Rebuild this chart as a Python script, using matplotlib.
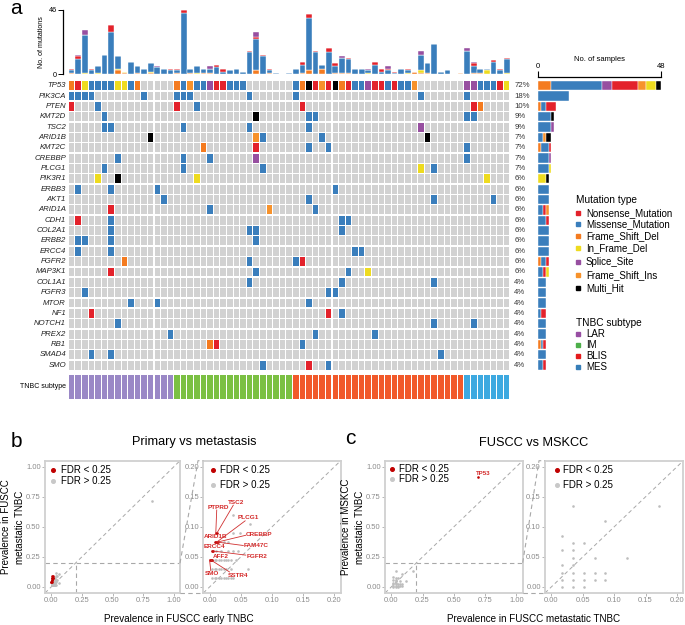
import numpy as np
import matplotlib
matplotlib.use('Agg')
import matplotlib.pyplot as plt

plt.rcParams['font.family'] = ['Liberation Sans', 'DejaVu Sans']

W, H = 685, 625
N_SAMPLES = 67

# ---------------- data : oncoplot ----------------
genes = ['TP53', 'PIK3CA', 'PTEN', 'KMT2D', 'TSC2', 'ARID1B', 'KMT2C', 'CREBBP',
         'PLCG1', 'PIK3R1', 'ERBB3', 'AKT1', 'ARID1A', 'CDH1', 'COL2A1', 'ERBB2',
         'ERCC4', 'FGFR2', 'MAP3K1', 'COL1A1', 'FGFR3', 'MTOR', 'NF1', 'NOTCH1',
         'PREX2', 'RB1', 'SMAD4', 'SMO']
# sample index + type code (N nonsense, M missense, D fs del, F in-frame del,
# S splice, I fs ins, X multi hit)
gene_mutations = [
    "0D 1N 2F 3M 4M 5M 6M 7F 8F 9M 10D 16D 17M 18I 19M 20M 21S 22N 23N 24M 25M 26M "
    "34M 35D 36X 37N 38I 39N 40X 41D 42N 43M 44M 45S 46N 47N 48M 49N 50M 51M 52I "
    "60S 61S 62M 63M 64M 65N 66F",
    "0M 1M 2M 3M 11M 16M 17M 18M 27M 34M 53M 60M",
    "0N 4M 16N 19M 35N 61N 62D",
    "5M 28X 36M 37M 60M 61M",
    "5M 6M 17M 27M 36M 53S",
    "12X 28I 29M 38M 54X",
    "20D 28N 36M 39M 60M",
    "7M 17M 21M 28S 60M",
    "5M 17M 29M 53F 55M",
    "4F 7X 19F 63F",
    "1M 6M 13M 40M",
    "14M 36M 55M 64M",
    "6N 21M 30I 37M",
    "1N 6M 41M 42M",
    "6M 27M 28M 41M",
    "1M 2M 6M 28M",
    "1M 6M 43M 44M",
    "8D 27M 34M 35N",
    "6N 28M 42M 45F",
    "27M 41M 55M",
    "2M 39M 40M",
    "9M 13M 36M",
    "3N 39N 41M",
    "7M 55M 61M",
    "15M 37M 46M",
    "21D 22N 35M",
    "3M 6M 56M",
    "29M 36N 39M",
]

type_codes = ['N', 'M', 'D', 'F', 'S', 'I', 'X']
type_names = ['Nonsense_Mutation', 'Missense_Mutation', 'Frame_Shift_Del', 'In_Frame_Del',
              'Splice_Site', 'Frame_Shift_Ins', 'Multi_Hit']
type_colors = {'N': '#E3222B', 'M': '#3A7EBC', 'D': '#F47B20', 'F': '#EEDB1F',
               'S': '#974FA0', 'I': '#F7922B', 'X': '#000000'}
side_order = ['D', 'M', 'S', 'N', 'I', 'F', 'X']
GREY = '#D2D2D2'

# mutations per sample (stacked top bar)
tmb_fs = [1, 0, 0, 0, 0, 0, 0, 3, 1, 0, 1, 0, 1, 0, 0, 0, 1, 0, 1, 0, 1, 1, 0, 0, 0, 0, 0, 0, 3, 0,
          1, 0, 0, 0, 0, 1, 3, 0, 4, 0, 1, 1, 1, 0, 0, 0, 0, 0, 0, 0, 0, 0, 2, 1, 1, 0, 0, 0, 0, 1,
          0, 1, 1, 0, 0, 0, 0]
tmb_ifd = [0, 0, 1, 0, 1, 0, 0, 1, 1, 0, 0, 0, 1, 0, 0, 0, 0, 0, 0, 1, 0, 0, 0, 0, 0, 0, 0, 0, 0, 0,
           0, 0, 0, 0, 0, 0, 0, 0, 0, 0, 0, 0, 0, 0, 0, 1, 0, 0, 0, 0, 0, 1, 0, 2, 0, 0, 0, 0, 0, 0,
           0, 0, 0, 3, 0, 0, 1]
tmb_mis = [2, 11, 27, 3, 5, 14, 30, 9, 0, 9, 5, 4, 6, 5, 4, 3, 2, 44, 3, 5, 3, 3, 5, 2, 3, 4, 2, 16, 22, 13,
           2, 1, 0, 1, 4, 6, 37, 16, 3, 16, 5, 11, 10, 4, 4, 2, 7, 2, 3, 1, 4, 2, 0, 11, 7, 22, 2, 3, 0, 0,
           17, 5, 3, 1, 9, 3, 10]
tmb_non = [1, 2, 0, 1, 0, 0, 5, 0, 0, 0, 0, 0, 0, 0, 0, 1, 1, 2, 0, 0, 0, 0, 2, 2, 0, 0, 0, 1, 2, 1,
           1, 0, 0, 0, 0, 2, 3, 1, 0, 3, 2, 0, 1, 0, 0, 0, 2, 2, 1, 1, 0, 1, 0, 0, 0, 0, 0, 0, 0, 0,
           0, 2, 0, 0, 1, 1, 1]
tmb_spl = [0, 1, 4, 0, 0, 0, 0, 0, 0, 0, 0, 0, 0, 1, 0, 0, 0, 0, 0, 0, 0, 2, 0, 0, 0, 0, 0, 0, 3, 0,
           0, 0, 0, 0, 0, 0, 0, 0, 0, 0, 0, 1, 0, 0, 0, 1, 0, 0, 2, 0, 0, 0, 0, 3, 0, 0, 0, 0, 0, 0,
           2, 1, 0, 0, 0, 0, 0]

subtype_names = ['LAR', 'IM', 'BLIS', 'MES']
subtype_counts = [16, 18, 26, 7]
subtype_bar_colors = {'LAR': '#9A88C6', 'IM': '#7BC043', 'BLIS': '#F1592A', 'MES': '#3DA9E0'}
subtype_leg_colors = {'LAR': '#984EA3', 'IM': '#4DAF4A', 'BLIS': '#E41A1C', 'MES': '#377EB8'}

# ---------------- data : panel b ----------------
b_gray_x = [0.004, 0.008, 0.011, 0.015, 0.019, 0.023, 0.027, 0.030, 0.034, 0.038,
            0.004, 0.008, 0.011, 0.015, 0.019, 0.023, 0.027, 0.034, 0.062,
            0.004, 0.008, 0.011, 0.015, 0.019, 0.023, 0.027, 0.030, 0.034, 0.042,
            0.011, 0.019, 0.030, 0.038, 0.045,
            0.023, 0.030, 0.038, 0.049, 0.065, 0.037, 0.820]
b_gray_y = [0.015, 0.015, 0.015, 0.015, 0.015, 0.015, 0.015, 0.015, 0.015, 0.015,
            0.030, 0.030, 0.030, 0.030, 0.030, 0.030, 0.030, 0.030, 0.030,
            0.045, 0.045, 0.045, 0.045, 0.045, 0.045, 0.045, 0.045, 0.045, 0.045,
            0.060, 0.060, 0.060, 0.060, 0.060,
            0.075, 0.075, 0.090, 0.090, 0.104, 0.119, 0.716]
b_red_genes = ['TSC2', 'PTPRD', 'PLCG1', 'ARID1B', 'CREBBP', 'FAM47C', 'ERCC4', 'FGFR2',
               'AFF2', 'SMO', 'SSTR4']
b_red_x = [0.012, 0.010, 0.012, 0.008, 0.014, 0.010, 0.006, 0.004, 0.004, 0.000, 0.002]
b_red_y = [0.090, 0.090, 0.075, 0.075, 0.075, 0.075, 0.060, 0.060, 0.045, 0.045, 0.045]
# label placement (layout)
b_lab_x = [0.042, 0.014, 0.062, 0.010, 0.079, 0.074, 0.008, 0.076, 0.018, 0.004, 0.045]
b_lab_y = [0.141, 0.132, 0.115, 0.084, 0.087, 0.069, 0.068, 0.051, 0.050, 0.022, 0.019]
b_seg_x = [0.038, 0.0115, 0.057, None, 0.058, 0.054, None, 0.058, None, 0.002, 0.032]
b_seg_y = [0.136, 0.128, 0.110, None, 0.086, 0.069, None, 0.053, None, 0.027, 0.025]

# ---------------- data : panel c ----------------
c_gray_x = [0.017, 0.017, 0.017, 0.017, 0.017, 0.017,
            0.034, 0.034, 0.034, 0.034, 0.034, 0.034, 0.034, 0.034,
            0.052, 0.052, 0.052, 0.052,
            0.069, 0.069, 0.069,
            0.086, 0.086, 0.086,
            0.121, 0.172]
c_gray_y = [0.000, 0.012, 0.024, 0.036, 0.061, 0.085,
            0.000, 0.012, 0.024, 0.036, 0.048, 0.061, 0.073, 0.134,
            0.000, 0.012, 0.024, 0.073,
            0.012, 0.024, 0.048,
            0.012, 0.024, 0.110,
            0.048, 0.134]
c_red_genes = ['TP53']
c_red_x = [0.694]
c_red_y = [0.917]

# ---------------- figure ----------------
fig = plt.figure(figsize=(W / 100, H / 100), dpi=100)


def R(x0, y0, x1, y1):
    return [x0 / W, 1 - y1 / H, (x1 - x0) / W, (y1 - y0) / H]


ov = fig.add_axes([0, 0, 1, 1], zorder=10)
ov.set_xlim(0, W)
ov.set_ylim(H, 0)
ov.axis('off')
ov.patch.set_alpha(0)

matrix = []
for s in gene_mutations:
    d = {}
    for tok in s.split():
        d[int(tok[:-1])] = tok[-1]
    matrix.append(d)

GX0, GX1 = 68.3, 510.0
GY0, GY1 = 80.5, 370.3
cols_x = np.arange(N_SAMPLES) + 0.5

# grid
axg = fig.add_axes(R(GX0, GY0, GX1, GY1))
axg.set_xlim(0, N_SAMPLES)
axg.set_ylim(len(genes), 0)
axg.axis('off')
for i, d in enumerate(matrix):
    colors = [type_colors[d[k]] if k in d else GREY for k in range(N_SAMPLES)]
    axg.bar(cols_x, 0.86, bottom=i + 0.07, width=0.84, color=colors, linewidth=0)
    axg.text(-0.35, i + 0.5, genes[i], ha='right', va='center', fontsize=5.6,
             style='italic', color='#222222')
    pct = round(100 * len(d) / N_SAMPLES)
    axg.text(67.65, i + 0.5, f'{pct}%', ha='left', va='center', fontsize=5.6, color='#333333')

# top bars
axt = fig.add_axes(R(63.3, 10.0, GX1, 74.3))
axt.set_xlim(-0.76, N_SAMPLES)
axt.set_ylim(0, 46)
bottom = np.zeros(N_SAMPLES)
for vals, code in [(tmb_fs, 'D'), (tmb_ifd, 'F'), (tmb_mis, 'M'), (tmb_non, 'N'), (tmb_spl, 'S')]:
    v = np.array(vals, dtype=float)
    axt.bar(cols_x, v, bottom=bottom, width=0.86, color=type_colors[code],
            edgecolor='white', linewidth=0.3)
    bottom += v
for sp in ['top', 'right', 'bottom']:
    axt.spines[sp].set_visible(False)
axt.spines['left'].set_linewidth(0.9)
axt.set_xticks([])
axt.set_yticks([0, 46])
axt.tick_params(axis='y', labelsize=5.2, length=3.5, width=0.7, pad=1)
ov.text(41.7, 42, 'No. of mutations', rotation=90, ha='center', va='center', fontsize=5.1)

# side bars
axs = fig.add_axes(R(538.3, GY0, 661.0, GY1))
axs.set_xlim(0, 48)
axs.set_ylim(len(genes), 0)
for i, d in enumerate(matrix):
    left = 0
    for code in side_order:
        n = sum(1 for v in d.values() if v == code)
        if n:
            axs.barh(i + 0.5, n, left=left, height=0.9, color=type_colors[code],
                     edgecolor='white', linewidth=0.3)
            left += n
for sp in ['bottom', 'right', 'left']:
    axs.spines[sp].set_visible(False)
axs.spines['top'].set_position(('outward', 2.3))
axs.spines['top'].set_linewidth(0.9)
axs.xaxis.tick_top()
axs.set_xticks([0, 48])
axs.set_yticks([])
axs.tick_params(axis='x', labelsize=5.5, length=4, width=0.8, pad=1)
ov.text(600, 59.5, 'No. of samples', ha='center', va='center', fontsize=5.5)

# subtype bar
axb = fig.add_axes(R(GX0, 375.0, GX1, 399.3))
axb.set_xlim(0, N_SAMPLES)
axb.set_ylim(0, 1)
axb.axis('off')
sub_per_sample = np.repeat(subtype_names, subtype_counts)
axb.bar(cols_x, 1, width=0.84, color=[subtype_bar_colors[s] for s in sub_per_sample], linewidth=0)
ov.text(66, 387, 'TNBC subtype', ha='right', va='center', fontsize=5)

# legends (oncoplot)
ov.text(576, 200, 'Mutation type', ha='left', va='center', fontsize=7.3)
leg_y = [213.3, 224.3, 236, 248.3, 262.3, 275, 287.7]
for code, name, y in zip(type_codes, type_names, leg_y):
    ov.plot([577.7], [y], marker='s', ms=2.6, color=type_colors[code], lw=0)
    ov.text(586, y, name, ha='left', va='center', fontsize=7)
ov.text(576, 323.3, 'TNBC subtype', ha='left', va='center', fontsize=7.3)
for name, y in zip(subtype_names, [334.3, 345, 355.7, 366.7]):
    ov.plot([577.7], [y], marker='s', ms=2.6, color=subtype_leg_colors[name], lw=0)
    ov.text(586, y, name, ha='left', va='center', fontsize=7)

ov.text(15.5, 8, 'a', ha='center', va='center', fontsize=15)


# ---------------- panels b / c ----------------
def make_panel(x0, x1, lims, ticks, gx, gy, rx, ry, leg):
    ax = fig.add_axes(R(x0, 460.7, x1, 593.0))
    ax.set_xlim(lims)
    ax.set_ylim(lims)
    for sp in ax.spines.values():
        sp.set_color('#D0D0D0')
        sp.set_linewidth(1.3)
    ax.set_xticks(ticks)
    ax.set_yticks(ticks)
    ax.set_xticklabels([f'{t:.2f}' for t in ticks])
    ax.set_yticklabels([f'{t:.2f}' for t in ticks])
    ax.tick_params(length=2, width=0.6, color='#AAAAAA', labelcolor='#8C8C8C',
                   labelsize=5.5, pad=1.0)
    ax.plot(lims, lims, ls=(0, (4, 3)), color='#A8A8A8', lw=0.7, zorder=1)
    ax.scatter(gx, gy, s=3.5, color='#BDBDBD', linewidths=0, zorder=2)
    ax.scatter(rx, ry, s=3.5, color='#C00000', linewidths=0, zorder=3)
    lx, tx, ly1, ly2 = leg
    ax.plot([lx], [ly1], marker='o', ms=2.6, color='#C00000', transform=ax.transAxes, clip_on=False)
    ax.plot([lx], [ly2], marker='o', ms=2.6, color='#C8C8C8', transform=ax.transAxes, clip_on=False)
    ax.text(tx, ly1, 'FDR < 0.25', transform=ax.transAxes, ha='left', va='center', fontsize=7)
    ax.text(tx, ly2, 'FDR > 0.25', transform=ax.transAxes, ha='left', va='center', fontsize=7)
    return ax


big_lims = (-0.05, 1.05)
big_ticks = [0, 0.25, 0.5, 0.75, 1.0]
sm_lims = (-0.01, 0.21)
sm_ticks = [0, 0.05, 0.1, 0.15, 0.2]

ax_bl = make_panel(45, 180, big_lims, big_ticks, b_gray_x, b_gray_y, b_red_x, b_red_y,
                   (0.061, 0.119, 0.93, 0.85))
ax_br = make_panel(203.3, 340.7, sm_lims, sm_ticks, b_gray_x, b_gray_y, b_red_x, b_red_y,
                   (0.073, 0.12, 0.93, 0.82))
ax_cl = make_panel(385, 522.7, big_lims, big_ticks, c_gray_x, c_gray_y, c_red_x, c_red_y,
                   (0.053, 0.104, 0.94, 0.86))
ax_cr = make_panel(545, 683.3, sm_lims, sm_ticks, c_gray_x, c_gray_y, c_red_x, c_red_y,
                   (0.085, 0.128, 0.93, 0.82))

# gene labels in zoomed b panel
for g, px, py, lx, ly, sx, sy in zip(b_red_genes, b_red_x, b_red_y, b_lab_x, b_lab_y, b_seg_x, b_seg_y):
    if sx is not None:
        ax_br.plot([sx, px], [sy, py], color='#D03030', lw=0.6, zorder=3)
    ax_br.text(lx, ly, g, ha='center', va='center', fontsize=4.6, fontweight='bold',
               color='#D42A2A', zorder=4)
# TP53 label in c
ax_cl.text(0.737, 0.944, c_red_genes[0], ha='center', va='center', fontsize=4.4,
           fontweight='bold', color='#D42A2A')

# zoom indicators
dash = (0, (4, 3))
for ax in (ax_bl, ax_cl):
    ax.plot([0.2, 0.2], [-0.05, 0.2], ls=dash, color='#A8A8A8', lw=0.8)
    ax.plot([-0.05, 1.05], [0.2, 0.2], ls=dash, color='#A8A8A8', lw=0.8)
ov.plot([180, 198, 203.3], [563.2, 460.7, 460.7], ls=dash, color='#A8A8A8', lw=0.8)
ov.plot([180, 203.3], [593, 593], ls=dash, color='#A8A8A8', lw=0.8)
ov.plot([522.7, 539, 545], [562.7, 460.7, 460.7], ls=dash, color='#A8A8A8', lw=0.8)
ov.plot([522.7, 545], [593, 593], ls=dash, color='#A8A8A8', lw=0.8)

# titles / labels
ov.text(16.7, 441.7, 'b', ha='center', va='center', fontsize=15)
ov.text(350, 438, 'c', ha='center', va='center', fontsize=15)
ov.text(194, 442, 'Primary vs metastasis', ha='center', va='center', fontsize=9.2)
ov.text(534, 443, 'FUSCC vs MSKCC', ha='center', va='center', fontsize=9.2)
ov.text(6.5, 527, 'Prevalence in FUSCC', rotation=90, ha='center', va='center', fontsize=7.0)
ov.text(20.5, 527, 'metastatic TNBC', rotation=90, ha='center', va='center', fontsize=7.0)
ov.text(346.5, 527, 'Prevalence in MSKCC', rotation=90, ha='center', va='center', fontsize=7.0)
ov.text(360, 527, 'metastatic TNBC', rotation=90, ha='center', va='center', fontsize=7.0)
ov.text(179, 619, 'Prevalence in FUSCC early TNBC', ha='center', va='center', fontsize=7.1)
ov.text(534, 619, 'Prevalence in FUSCC metastatic TNBC', ha='center', va='center', fontsize=7.1)

fig.savefig('out.png', dpi=100)
